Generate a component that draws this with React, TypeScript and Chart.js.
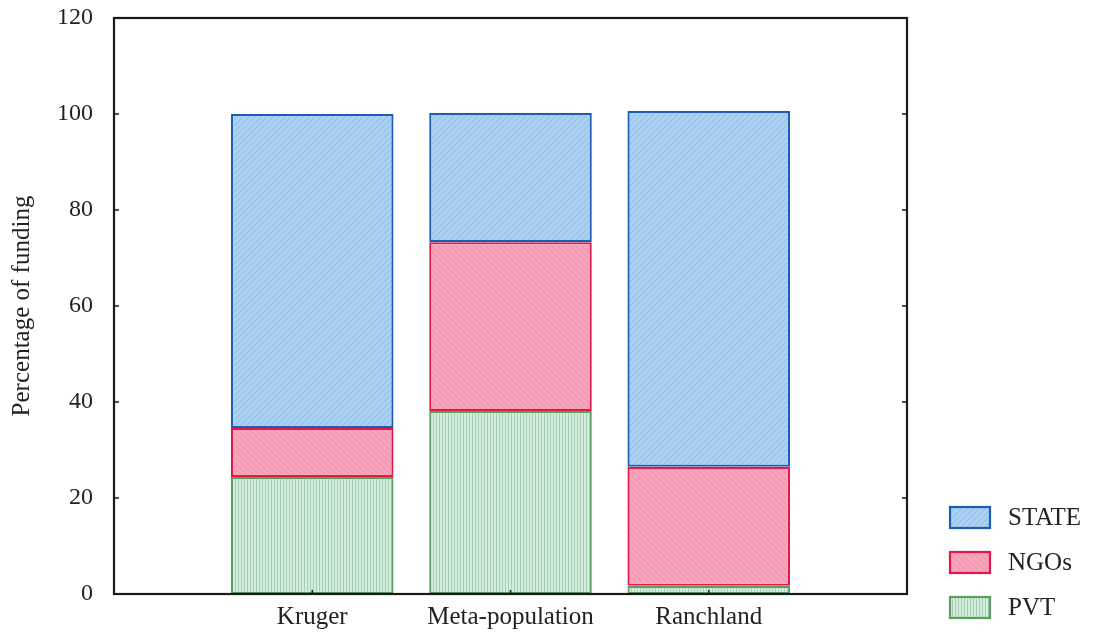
import React, { useEffect, useRef } from 'react';
import { Chart, registerables } from 'chart.js';
Chart.register(...registerables);

const categories = ['Kruger', 'Meta-population', 'Ranchland'];
const pvt = [24.4, 38.1, 1.7];
const ngos = [10.2, 35.2, 24.8];
const state = [65.4, 26.9, 74.1];
const yTicks = [0, 20, 40, 60, 80, 100, 120];
const legendNames = ['STATE', 'NGOs', 'PVT'];

const SERIF = '"Liberation Serif", "DejaVu Serif", serif';

function makePattern(base: string, line: string, kind: 'v' | 'd' | 'n') {
  const c = document.createElement('canvas');
  c.width = 6;
  c.height = 6;
  const g = c.getContext('2d')!;
  g.fillStyle = base;
  g.fillRect(0, 0, 6, 6);
  g.strokeStyle = line;
  g.lineWidth = 1;
  g.beginPath();
  if (kind === 'v') {
    g.moveTo(1.5, 0); g.lineTo(1.5, 6);
    g.moveTo(4.5, 0); g.lineTo(4.5, 6);
  } else if (kind === 'd') {
    g.moveTo(0, 6); g.lineTo(6, 0);
  } else {
    g.moveTo(0, 0); g.lineTo(6, 6);
  }
  g.stroke();
  return g.createPattern(c, 'repeat')!;
}

export default function App() {
  const ref = useRef<HTMLCanvasElement>(null);
  useEffect(() => {
    document.body.style.margin = '0';
    const blueFill = makePattern('#aad1f4', 'rgba(115,165,225,0.55)', 'd');
    const redFill = makePattern('#f5a5bb', 'rgba(235,120,150,0.45)', 'n');
    const greenFill = makePattern('#d2efdb', 'rgba(140,180,155,0.6)', 'v');
    const fills = [blueFill, redFill, greenFill];
    const borders = ['#1b5fb5', '#e3184a', '#5e9c62'];

    const pad = (a: number[]) => [null, ...a, null];
    const labels = ['', ...categories, ''];

    const framePlugin = {
      id: 'frame',
      afterDraw(chart: any) {
        const { ctx, chartArea: a, scales } = chart;
        ctx.save();
        ctx.strokeStyle = '#1a1a1a';
        ctx.lineWidth = 2.2;
        ctx.strokeRect(a.left, a.top, a.right - a.left, a.bottom - a.top);
        ctx.lineWidth = 1.5;
        ctx.beginPath();
        yTicks.forEach((v) => {
          const y = scales.y.getPixelForValue(v);
          ctx.moveTo(a.left, y); ctx.lineTo(a.left + 5, y);
          ctx.moveTo(a.right, y); ctx.lineTo(a.right - 5, y);
        });
        categories.forEach((_, i) => {
          const x = scales.x.getPixelForValue(i + 1);
          ctx.moveTo(x, a.bottom); ctx.lineTo(x, a.bottom - 4);
        });
        ctx.stroke();

        // legend
        ctx.font = '25px ' + SERIF;
        ctx.textBaseline = 'middle';
        legendNames.forEach((name, i) => {
          const cy = 517 + i * 45;
          ctx.fillStyle = fills[i] as any;
          ctx.fillRect(950, cy - 10, 40, 21);
          ctx.strokeStyle = borders[i];
          ctx.lineWidth = 2.2;
          ctx.strokeRect(950, cy - 10, 40, 21);
          ctx.fillStyle = '#222';
          ctx.fillText(name, 1008, cy + 1);
        });
        ctx.restore();
      },
    };

    const common = { borderWidth: 2.2, borderSkipped: false as any, barPercentage: 0.82, categoryPercentage: 1, stack: 's' };
    const chart = new Chart(ref.current!, {
      type: 'bar',
      data: {
        labels,
        datasets: [
          { label: 'PVT', data: pad(pvt), backgroundColor: greenFill, borderColor: borders[2], ...common },
          { label: 'NGOs', data: pad(ngos), backgroundColor: redFill, borderColor: borders[1], ...common },
          { label: 'STATE', data: pad(state), backgroundColor: blueFill, borderColor: borders[0], ...common },
        ],
      },
      options: {
        animation: false,
        responsive: true,
        maintainAspectRatio: false,
        layout: { padding: { left: 4, right: 192, top: 18, bottom: 0 } },
        plugins: { legend: { display: false }, tooltip: { enabled: false } },
        scales: {
          x: {
            type: 'category',
            offset: false,
            stacked: true,
            grid: { display: false, drawTicks: false },
            border: { display: false },
            ticks: { color: '#222', font: { family: SERIF, size: 25 }, padding: 8, autoSkip: false, maxRotation: 0 },
            afterFit: (s: any) => { s.height = 44; s.paddingLeft = 0; s.paddingRight = 0; },
          },
          y: {
            stacked: true,
            min: 0,
            max: 120,
            grid: { display: false, drawTicks: false },
            border: { display: false },
            ticks: { stepSize: 20, color: '#222', font: { family: SERIF, size: 24 }, padding: 21 },
            title: { display: true, text: 'Percentage of funding', color: '#222', font: { family: SERIF, size: 25 }, padding: { top: 3, bottom: 0 } },
            afterFit: (s: any) => { s.width = 110; s.paddingTop = 0; s.paddingBottom = 0; },
          },
        },
      },
      plugins: [framePlugin],
    });
    return () => chart.destroy();
  }, []);
  return (
    <div style={{ width: 1099, height: 638, position: 'relative', background: '#fff' }}>
      <canvas ref={ref} />
    </div>
  );
}
